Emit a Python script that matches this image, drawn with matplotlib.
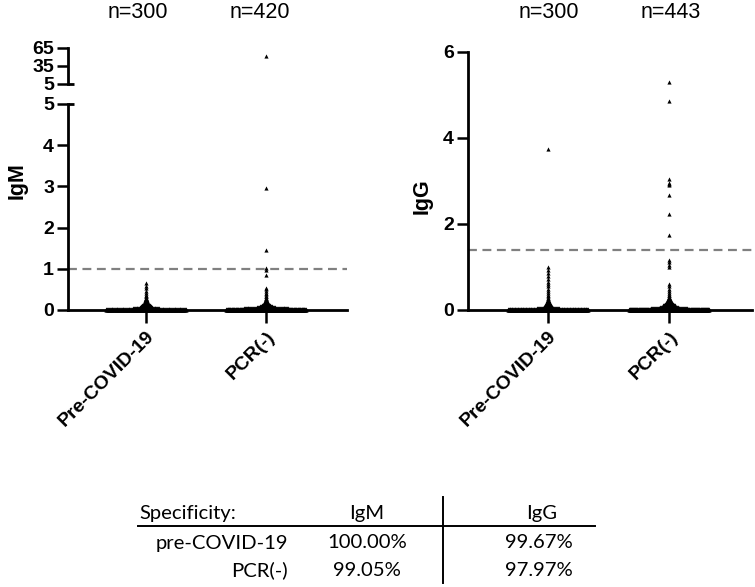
import numpy as np
import matplotlib.pyplot as plt
from matplotlib.lines import Line2D

plt.rcParams['font.family'] = ['Liberation Sans', 'DejaVu Sans']

W, H = 755, 587

# values: distinct levels and how many points sit on each
igm_pre_vals = [0.01, 0.03, 0.05, 0.07, 0.09, 0.11, 0.13, 0.15, 0.18, 0.21, 0.25,
                0.29, 0.33, 0.37, 0.42, 0.47, 0.53, 0.58, 0.65]
igm_pre_counts = [105, 94, 30, 14, 12, 10, 8, 6, 5, 4, 3, 2, 2, 1, 1, 1, 1, 1, 1]

igm_pcr_vals = [0.01, 0.03, 0.05, 0.07, 0.09, 0.11, 0.13, 0.16, 0.19, 0.22, 0.26,
                0.30, 0.34, 0.38, 0.42, 0.46, 0.50, 0.54, 0.85, 0.98, 1.03, 1.45,
                2.95, 52]
igm_pcr_counts = [150, 140, 50, 20, 14, 10, 7, 5, 4, 3, 2, 2, 2, 1, 1, 1, 1, 1,
                  1, 1, 1, 1, 1, 1]

igg_pre_vals = [0.01, 0.03, 0.05, 0.08, 0.11, 0.14, 0.17, 0.20, 0.24, 0.28, 0.32,
                0.36, 0.40, 0.45, 0.50, 0.55, 0.60, 0.66, 0.72, 0.78, 0.85, 0.92,
                1.0, 3.75]
igg_pre_counts = [116, 110, 25, 10, 8, 6, 4, 3, 2, 2, 1, 1, 1, 1, 1, 1, 1, 1, 1,
                  1, 1, 1, 1, 1]

igg_pcr_vals = [0.01, 0.03, 0.05, 0.08, 0.11, 0.14, 0.17, 0.20, 0.23, 0.26, 0.30,
                0.35, 0.40, 0.45, 0.50, 0.55, 0.60, 1.0, 1.05, 1.12, 1.16, 1.74,
                2.23, 2.67, 2.9, 2.92, 2.95, 3.05, 4.85, 5.3]
igg_pcr_counts = [162, 153, 40, 20, 15, 10, 8, 6, 4, 3, 2, 2, 1, 1, 1, 1, 1, 1,
                  1, 1, 1, 1, 1, 1, 1, 1, 1, 1, 1, 1]

groups = ['Pre-COVID-19', 'PCR(-)']
igm_n = ['n=300', 'n=420']
igg_n = ['n=300', 'n=443']
igm_cutoff = 1.0
igg_cutoff = 1.4

table_cols = ['IgM', 'IgG']
table_rows = ['pre-COVID-19', 'PCR(-)']
table_igm = ['100.00%', '99.05%']
table_igg = ['99.67%', '97.97%']


def fx(x):
    return x / W


def fy(y):
    return 1 - y / H


def swarm(center, vals, counts, step=0.0075, half=0.33):
    xs, ys = [], []
    for v, c in zip(vals, counts):
        sp = min(step, 2 * half / max(c - 1, 1))
        offs = (np.arange(c) - (c - 1) / 2) * sp
        xs.extend(center + offs)
        ys.extend([v] * c)
    return np.array(xs), np.array(ys)


def style(ax):
    for s in ['top', 'right']:
        ax.spines[s].set_visible(False)
    for s in ['left', 'bottom']:
        ax.spines[s].set_linewidth(2)
    ax.tick_params(length=8, width=1.8, labelsize=14, pad=2)
    for lab in ax.get_yticklabels():
        lab.set_fontweight('bold')


fig = plt.figure(figsize=(W / 100, H / 100), dpi=100)

# IgM, lower part of broken axis
ax1 = fig.add_axes([fx(68), fy(310), fx(347 - 68), (310 - 104) / H])
# IgM, upper part
ax1t = fig.add_axes([fx(68), fy(84), fx(347 - 68), (84 - 48) / H])
# IgG
ax2 = fig.add_axes([fx(468), fy(310), fx(752 - 468), (310 - 52) / H])

mk = dict(marker='^', ls='none', ms=3, color='black', mew=0, clip_on=False, zorder=3)

for i, (vals, counts) in enumerate([(igm_pre_vals, igm_pre_counts),
                                    (igm_pcr_vals, igm_pcr_counts)]):
    xs, ys = swarm(i, vals, counts)
    low = ys <= 5
    ax1.plot(xs[low], ys[low], **mk)
    ax1t.plot(xs[~low], ys[~low], **mk)

for i, (vals, counts) in enumerate([(igg_pre_vals, igg_pre_counts),
                                    (igg_pcr_vals, igg_pcr_counts)]):
    xs, ys = swarm(i, vals, counts)
    ax2.plot(xs, ys, **mk)

ax1.set_xlim(-0.65, 1.675)
ax1.set_ylim(0, 5)
ax1.set_yticks([0, 1, 2, 3, 4, 5])
ax1.axhline(igm_cutoff, color='#808080', lw=1.6, dashes=(4, 2.5))

ax1t.set_xlim(-0.65, 1.675)
ax1t.set_ylim(5, 65)
ax1t.set_yticks([5, 35, 65])
ax1t.spines['bottom'].set_visible(False)
ax1t.set_xticks([])
ax1t.patch.set_visible(False)

ax2.set_xlim(-0.661, 1.686)
ax2.set_ylim(0, 6)
ax2.set_yticks([0, 2, 4, 6])
ax2.axhline(igg_cutoff, color='#808080', lw=1.6, dashes=(4, 2.5))

for ax in [ax1, ax1t, ax2]:
    style(ax)

for ax in [ax1, ax2]:
    ax.set_xticks([0, 1])
    ax.set_xticklabels(groups, rotation=45, ha='right', va='top',
                       rotation_mode='anchor', fontsize=14, fontweight='bold')
    ax.tick_params(axis='x', length=9, pad=4)

# break marks
ax1t.plot([0, 0.02], [0, 0], transform=ax1t.transAxes, color='black', lw=2,
          clip_on=False, solid_capstyle='butt')
ax1.plot([0, 0.02], [1, 1], transform=ax1.transAxes, color='black', lw=2,
         clip_on=False, solid_capstyle='butt')

# labels
fig.text(fx(17), fy(181), 'IgM', rotation=90, ha='center', va='center',
         fontsize=15.5, fontweight='bold')
fig.text(fx(422), fy(196), 'IgG', rotation=90, ha='center', va='center',
         fontsize=15.5, fontweight='bold')
for x, t in zip([138, 260], igm_n):
    fig.text(fx(x), fy(12), t, ha='center', va='center', fontsize=15.5)
for x, t in zip([549, 671], igg_n):
    fig.text(fx(x), fy(12), t, ha='center', va='center', fontsize=15.5)

# specificity table
tf = dict(fontsize=14.6, family=['Lato', 'DejaVu Sans'], va='center')
fig.text(fx(139), fy(513), 'Specificity:', ha='left', **tf)
fig.text(fx(367), fy(513), table_cols[0], ha='center', **tf)
fig.text(fx(542), fy(513), table_cols[1], ha='center', **tf)
for y, r, a, b in zip([543, 570], table_rows, table_igm, table_igg):
    fig.text(fx(288), fy(y), r, ha='right', **tf)
    fig.text(fx(367), fy(y), a, ha='center', **tf)
    fig.text(fx(573), fy(y), b, ha='right', **tf)
fig.add_artist(Line2D([fx(138), fx(595)], [fy(526), fy(526)], color='black', lw=1.4))
fig.add_artist(Line2D([fx(443), fx(443)], [fy(497), fy(583)], color='black', lw=1.4))

fig.savefig('out.png', dpi=100)
